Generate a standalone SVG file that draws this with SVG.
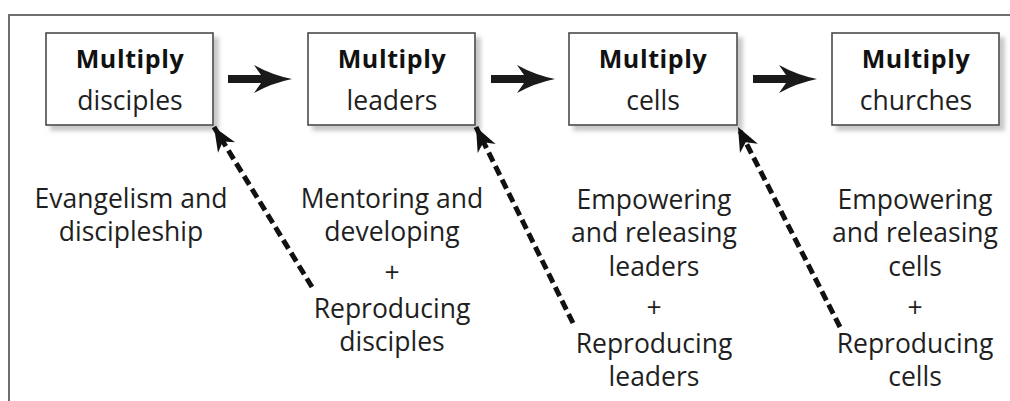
<svg xmlns="http://www.w3.org/2000/svg" width="1010" height="401" viewBox="0 0 1010 401">
<style>
.frame{stroke:#6e6e6e;stroke-width:2;fill:none}
.box{fill:#fff;stroke:#4a4a4a;stroke-width:1.6}
.t{font-family:"Open Sans","DejaVu Sans",sans-serif;text-anchor:middle;fill:#1f1f1f}
.b{font-size:25px;font-weight:bold;letter-spacing:0.6px;fill:#111}
.r{font-size:26.5px}
.body{font-size:26.5px}
.flow{fill:#1a1a1a}
.dash{stroke:#111;stroke-width:5;stroke-dasharray:10 5;fill:none}
</style>
<defs>
<filter id="sh" x="-10%" y="-10%" width="130%" height="140%">
<feGaussianBlur in="SourceAlpha" stdDeviation="2.2"/>
<feOffset dx="5" dy="5" result="o"/>
<feFlood flood-color="#9a9a9a" flood-opacity="0.55"/>
<feComposite in2="o" operator="in"/>
<feMerge><feMergeNode/><feMergeNode in="SourceGraphic"/></feMerge>
</filter>
<marker id="ah" markerUnits="userSpaceOnUse" viewBox="-26 -12 28 24" refX="0" refY="0" markerWidth="28" markerHeight="24" orient="auto">
<path d="M0,0 L-24,-10 L-17,0 L-24,10 Z" fill="#111"/>
</marker>
<path id="arr" d="M0,-4 L33,-4 L26,-14 Q44,-4 64,0 Q44,4 26,14 L33,4 L0,4 Z"/>
</defs>

<g id="frame"><path class="frame" d="M9,401 L9,15 L1010,15"/></g>

<g id="node-disciples">
<rect class="box" x="46" y="33" width="167" height="92" filter="url(#sh)"/>
<text class="t b" x="130" y="68">Multiply</text>
<text class="t r" x="130" y="110">disciples</text>
</g>
<g id="node-leaders">
<rect class="box" x="308" y="33" width="167" height="92" filter="url(#sh)"/>
<text class="t b" x="392" y="68">Multiply</text>
<text class="t r" x="392" y="110">leaders</text>
</g>
<g id="node-cells">
<rect class="box" x="569" y="33" width="168" height="92" filter="url(#sh)"/>
<text class="t b" x="653" y="68">Multiply</text>
<text class="t r" x="653" y="110">cells</text>
</g>
<g id="node-churches">
<rect class="box" x="832" y="33" width="167" height="92" filter="url(#sh)"/>
<text class="t b" x="916" y="68">Multiply</text>
<text class="t r" x="916" y="110">churches</text>
</g>

<g id="connectors">
<use href="#arr" class="flow" x="228" y="79"/>
<use href="#arr" class="flow" x="491" y="79"/>
<use href="#arr" class="flow" x="753" y="79"/>
<path class="dash" d="M312,287 L214,127" marker-end="url(#ah)"/>
<path class="dash" d="M573,323 L476,127" marker-end="url(#ah)"/>
<path class="dash" d="M840,327 L738,127" marker-end="url(#ah)"/>
</g>

<g id="label-1" class="t body">
<text x="131" y="208">Evangelism and</text>
<text x="131" y="241">discipleship</text>
</g>
<g id="label-2" class="t body">
<text x="392" y="208">Mentoring and</text>
<text x="392" y="241">developing</text>
<text x="392" y="282">+</text>
<text x="392" y="318">Reproducing</text>
<text x="392" y="351">disciples</text>
</g>
<g id="label-3" class="t body">
<text x="654" y="209">Empowering</text>
<text x="654" y="242">and releasing</text>
<text x="654" y="276">leaders</text>
<text x="654" y="317">+</text>
<text x="654" y="353">Reproducing</text>
<text x="654" y="386">leaders</text>
</g>
<g id="label-4" class="t body">
<text x="915" y="209">Empowering</text>
<text x="915" y="242">and releasing</text>
<text x="915" y="276">cells</text>
<text x="915" y="317">+</text>
<text x="915" y="353">Reproducing</text>
<text x="915" y="386">cells</text>
</g>
</svg>
